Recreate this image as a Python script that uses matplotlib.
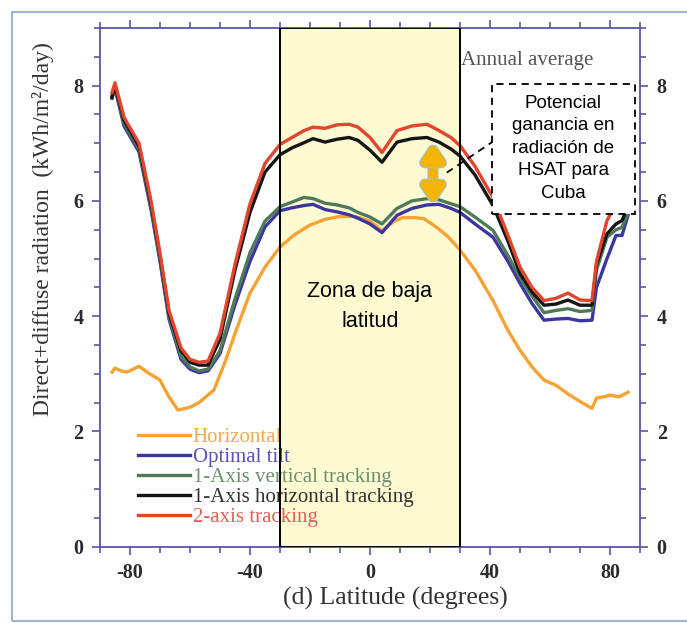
import numpy as np
import matplotlib
matplotlib.use("Agg")
import matplotlib.pyplot as plt
import matplotlib.patches as mpatches
import matplotlib.patheffects as pe
from matplotlib.ticker import MultipleLocator

# latitude grid for the tracking curves
lat = [-86, -85, -82, -77, -73, -70, -67, -63, -60, -57, -54, -50, -45, -40, -35,
       -30, -26, -22, -19, -15, -11, -7, -4, 0, 4, 9, 14, 19, 23, 27, 30, 35, 41,
       46, 50, 54, 58, 62, 66, 70, 74, 75.5, 79, 82, 84, 86]

two_axis = [7.88, 8.05, 7.45, 7.0, 6.0, 5.09, 4.1, 3.45, 3.25, 3.2, 3.22, 3.7, 4.9,
            5.95, 6.65, 6.98, 7.1, 7.22, 7.28, 7.26, 7.32, 7.33, 7.28, 7.1, 6.84,
            7.22, 7.3, 7.33, 7.22, 7.1, 6.96, 6.6, 6.06, 5.4, 4.85, 4.5, 4.27, 4.31,
            4.4, 4.28, 4.27, 4.95, 5.66, 5.95, 6.1, 6.3]
hsat = [7.8, 8.0, 7.4, 6.95, 5.95, 5.05, 4.05, 3.4, 3.2, 3.15, 3.15, 3.6, 4.8, 5.8,
        6.5, 6.8, 6.92, 7.01, 7.08, 7.02, 7.07, 7.1, 7.05, 6.88, 6.67, 7.02, 7.08,
        7.1, 7.02, 6.9, 6.78, 6.45, 5.92, 5.3, 4.74, 4.42, 4.19, 4.21, 4.28, 4.19,
        4.19, 4.9, 5.43, 5.6, 5.66, 5.9]
vsat = [7.82, 7.98, 7.35, 6.9, 5.9, 5.0, 4.0, 3.3, 3.12, 3.05, 3.08, 3.4, 4.3, 5.1,
        5.65, 5.9, 5.98, 6.06, 6.04, 5.96, 5.93, 5.88, 5.8, 5.72, 5.6, 5.87, 6.0,
        6.04, 6.02, 5.95, 5.9, 5.72, 5.49, 5.05, 4.67, 4.35, 4.06, 4.1, 4.13, 4.08,
        4.1, 4.8, 5.37, 5.5, 5.54, 5.8]
optimal = [7.78, 7.95, 7.3, 6.85, 5.85, 4.95, 3.95, 3.25, 3.08, 3.02, 3.05, 3.35,
           4.2, 4.95, 5.55, 5.83, 5.88, 5.92, 5.94, 5.85, 5.81, 5.76, 5.7, 5.6,
           5.45, 5.75, 5.87, 5.93, 5.94, 5.87, 5.8, 5.6, 5.37, 4.95, 4.57, 4.22,
           3.93, 3.95, 3.96, 3.92, 3.93, 4.5, 5.0, 5.4, 5.4, 5.75]

lat_h = [-86, -85, -83, -81, -77, -74, -70, -67, -64, -60, -57, -52, -48, -45, -40,
         -35, -30, -25, -20, -15, -10, -5, 0, 4, 8, 11, 15, 18, 22, 26, 30, 35, 41,
         46, 50, 54, 58, 62, 66, 70, 74, 75.5, 78, 80, 83, 86]
horizontal = [3.03, 3.1, 3.05, 3.03, 3.13, 3.02, 2.89, 2.6, 2.37, 2.42, 2.5, 2.72,
              3.25, 3.7, 4.4, 4.85, 5.2, 5.42, 5.58, 5.68, 5.73, 5.73, 5.65, 5.48,
              5.65, 5.71, 5.71, 5.69, 5.55, 5.38, 5.15, 4.8, 4.27, 3.75, 3.41, 3.12,
              2.89, 2.8, 2.65, 2.52, 2.4, 2.58, 2.6, 2.63, 2.6, 2.68]

series = [
    ("Horizontal", lat_h, horizontal, "#f7a233", "#f4a850"),
    ("Optimal tilt", lat, optimal, "#3c36a0", "#5a52b4"),
    ("1-Axis vertical tracking", lat, vsat, "#4e7a5a", "#6f9070"),
    ("1-Axis horizontal tracking", lat, hsat, "#151515", "#333333"),
    ("2-axis tracking", lat, two_axis, "#e4432c", "#e0605a"),
]

serif = ["Liberation Serif", "DejaVu Serif"]
sans = ["Liberation Sans", "DejaVu Sans"]
spine_col = "#5b55a8"

fig = plt.figure(figsize=(6.87, 6.23), dpi=100)
ax = fig.add_axes([100 / 687, 1 - 546.7 / 623, 540 / 687, (546.7 - 28) / 623])

# low latitude zone
ax.add_patch(mpatches.Rectangle((-30, 0), 60, 9, facecolor="#fefbd2",
                                edgecolor="none", zorder=0))
ax.add_patch(mpatches.Rectangle((-30, 0), 60, 9, facecolor="none",
                                edgecolor="black", lw=1.4, zorder=6))

for name, x, y, c, tc in series:
    ax.plot(x, y, color=c, lw=2.4, label=name, zorder=3)

ax.set_xlim(-90, 90)
ax.set_ylim(0, 9)
for s in ax.spines.values():
    s.set_color(spine_col)
    s.set_linewidth(1.3)
ax.xaxis.set_minor_locator(MultipleLocator(10))
ax.yaxis.set_minor_locator(MultipleLocator(0.5))
ax.tick_params(which="both", direction="out", color=spine_col, width=1.2,
               top=True, right=True, labelright=True, labelcolor="#2a2a2a",
               labelsize=14.5)
ax.tick_params(which="major", length=6, pad=6)
ax.tick_params(which="minor", length=4)
ax.set_xticks([-80, -40, 0, 40, 80])
ax.set_xticklabels(["-80", "-40", "0", "40", "80"], family=serif,
                   weight="bold")
ax.set_yticks([0, 2, 4, 6, 8])
ax.set_yticklabels(["0", "2", "4", "6", "8"], family=serif, weight="bold")
for t in ax.yaxis.get_major_ticks():
    t.label2.set_family(serif)
    t.label2.set_weight("bold")

leg = ax.legend(loc="lower left", bbox_to_anchor=(0.055, 0.021), frameon=False,
                handlelength=2.5, handletextpad=0.12, labelspacing=0.02,
                borderaxespad=0, prop={"family": serif, "size": 15})
leg.set_zorder(5)
for txt, s in zip(leg.get_texts(), series):
    txt.set_color(s[4])

ax.text(30.3, 8.43, "Annual average", family=serif, fontsize=15,
        color="#555555", ha="left", va="center", zorder=7)
ax.text(0, 4.17, "Zona de baja\nlatitud", family=sans, fontsize=15.5,
        ha="center", va="center", linespacing=1.55, zorder=7)

# dashed call-out box
ax.add_patch(mpatches.Rectangle((40.7, 5.78), 47.6, 2.25, facecolor="white",
                                edgecolor="black", lw=1.3, ls=(0, (4, 3)),
                                zorder=8, clip_on=False))
ax.text(64.5, 6.91, "Potencial\nganancia en\nradiación de\nHSAT para\nCuba",
        family=sans, fontsize=13.5, ha="center", va="center", linespacing=1.42,
        zorder=9)
ax.plot([25.6, 40.7], [6.49, 7.02], color="black", lw=1.3, ls=(0, (4, 3)),
        zorder=8)

ax.annotate("", xy=(21, 7.02), xytext=(21, 5.93), zorder=9,
            arrowprops=dict(arrowstyle="<|-|>,head_width=0.6,head_length=0.9",
                            color="#f5b400", lw=6.5, shrinkA=0, shrinkB=0,
                            path_effects=[pe.withStroke(linewidth=8,
                                                        foreground="#9ec3cf")]))

fig.text(43 / 687, 1 - 229 / 623, "Direct+diffuse radiation  (kWh/m²/day)",
         family=serif, fontsize=17, color="#333333", rotation=90,
         ha="center", va="center")
fig.text(395 / 687, 1 - 598 / 623, "(d) Latitude (degrees)", family=serif,
         fontsize=18.5, color="#333333", ha="center", va="center")

# thin frame around the picture
fig.add_artist(mpatches.Rectangle((12 / 687, 2 / 623), 680 / 687, 609 / 623,
                                  transform=fig.transFigure, fill=False,
                                  edgecolor="#9db5d3", lw=1.5))

fig.savefig("out.png", dpi=100)
